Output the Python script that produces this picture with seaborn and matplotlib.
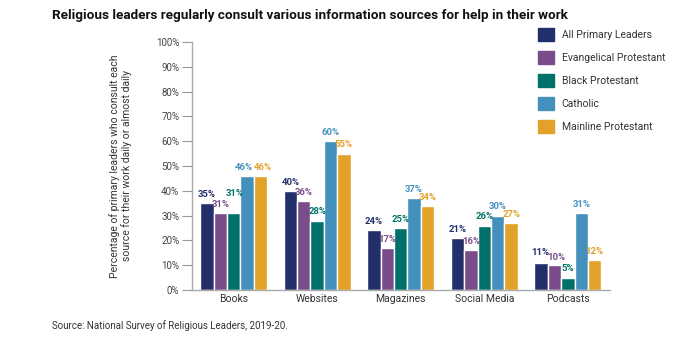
import matplotlib
matplotlib.use("Agg")
import matplotlib.pyplot as plt
import seaborn as sns
import pandas as pd
from matplotlib.patches import Patch

categories = ["Books", "Websites", "Magazines", "Social Media", "Podcasts"]
groups = ["All Primary Leaders", "Evangelical Protestant", "Black Protestant", "Catholic", "Mainline Protestant"]
all_primary = [35, 40, 24, 21, 11]
evangelical = [31, 36, 17, 16, 10]
black = [31, 28, 25, 26, 5]
catholic = [46, 60, 37, 30, 31]
mainline = [46, 55, 34, 27, 12]
colors = ["#232f6b", "#7a4d8a", "#00716a", "#4490bd", "#e2a129"]

# label nudges (points) to keep neighbouring value labels apart
label_nudge = {
    ("Books", "Black Protestant"): (1, 8),
    ("Books", "Catholic"): (-2, 0),
    ("Books", "Mainline Protestant"): (2, 0),
    ("Podcasts", "All Primary Leaders"): (-1, 1),
    ("Podcasts", "Evangelical Protestant"): (1, -1),
}

series = [all_primary, evangelical, black, catholic, mainline]
rows = []
for g, vals in zip(groups, series):
    for c, v in zip(categories, vals):
        rows.append({"category": c, "group": g, "value": v})
df = pd.DataFrame(rows)

sns.set_theme(style="white")
plt.rcParams['font.family'] = ['Roboto', 'DejaVu Sans']

fig = plt.figure(figsize=(7, 3.43), dpi=100)
ax = fig.add_axes([0.274, 0.1545, 0.597, 0.7231])

sns.barplot(data=df, x="category", y="value", hue="group", order=categories,
            hue_order=groups, palette=colors, width=0.8, saturation=1,
            edgecolor="white", linewidth=1.0, ax=ax, legend=False)

pad = 3
for container, col, g in zip(ax.containers, colors, groups):
    labels = [f"{int(v)}%" for v in container.datavalues]
    anns = ax.bar_label(container, labels=labels, padding=pad, color=col,
                        fontsize=6.8, fontweight="bold")
    for ann, c in zip(anns, categories):
        dx, dy = label_nudge.get((c, g), (0, 0))
        ann.xyann = (dx, pad + dy)

ax.set_ylim(0, 100)
ax.set_xlim(-0.5, 4.5)
ax.set_yticks(range(0, 101, 10))
ax.set_yticklabels([f"{t}%" for t in range(0, 101, 10)], fontsize=7, color="#444444")
ax.tick_params(axis="x", labelsize=7.5, colors="#333333", length=0, pad=3)
ax.tick_params(axis="y", length=7, width=0.8, color="#999999", left=True, pad=2)
ax.set_xlabel("")
ax.set_ylabel("Percentage of primary leaders who consult each\nsource for their work daily or almost daily",
              fontsize=7.5, color="#333333", labelpad=17)
for s in ["top", "right"]:
    ax.spines[s].set_visible(False)
for s in ["left", "bottom"]:
    ax.spines[s].set_color("#aaaaaa")
    ax.spines[s].set_linewidth(1.0)

handles = [Patch(facecolor=c, edgecolor=c, label=g) for g, c in zip(groups, colors)]
fig.legend(handles=handles, loc="upper left", bbox_to_anchor=(0.755, 0.945),
           frameon=False, fontsize=7.5, handlelength=1.55, handleheight=1.55,
           handletextpad=0.75, labelspacing=0.95, labelcolor="#333333")

fig.text(0.074, 0.975, "Religious leaders regularly consult various information sources for help in their work",
         fontsize=9.7, fontweight="bold", color="#111111", va="top", ha="left")
fig.text(0.074, 0.05, "Source: National Survey of Religious Leaders, 2019-20.",
         fontsize=7, color="#333333", va="center", ha="left")

fig.savefig("out.png", dpi=100)
